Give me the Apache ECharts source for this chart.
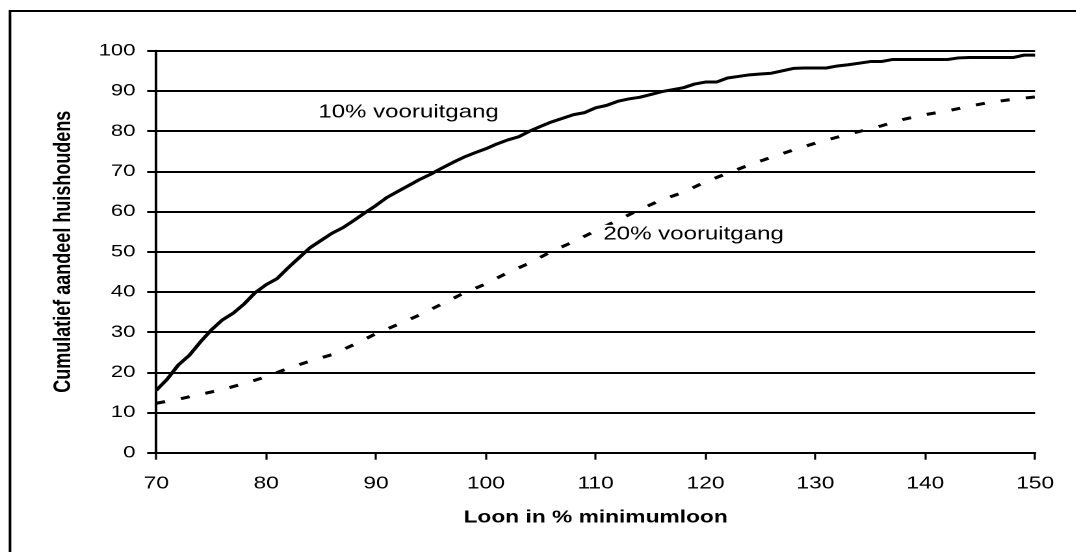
<!DOCTYPE html>
<html>
<head>
<meta charset="utf-8">
<script src="https://cdn.jsdelivr.net/npm/echarts@6/dist/echarts.min.js"></script>
<style>
html,body{margin:0;padding:0;background:#fff;}
#wrap{position:absolute;left:0;top:0;width:1076px;height:552px;overflow:hidden;background:#fff;}
#main{width:828px;height:552px;transform:scaleX(1.3);transform-origin:0 0;}
</style>
</head>
<body>
<div id="wrap"><div id="main"></div></div>
<script>
// Loon in % minimumloon (x values)
const loon10 = [70,71,72,73,74,75,76,77,78,79,80,81,82,83,84,85,86,87,88,89,90,91,92,93,94,95,96,97,98,99,100,101,102,103,104,105,106,107,108,109,110,111,112,113,114,115,116,117,118,119,120,121,122,123,124,125,126,127,128,129,130,131,132,133,134,135,136,137,138,139,140,141,142,143,144,145,146,147,148,149,150];
// Cumulatief aandeel huishoudens, 10% vooruitgang
const val10 = [15.5,18.3,21.8,24.2,27.5,30.5,33,34.7,37,39.8,41.8,43.3,46,48.5,51,52.8,54.6,56,57.8,59.7,61.5,63.5,65,66.5,68,69.3,70.8,72.2,73.5,74.6,75.6,76.8,77.8,78.6,80,81.2,82.3,83.2,84.1,84.6,85.8,86.4,87.4,88,88.4,89.1,89.8,90.3,90.8,91.7,92.2,92.2,93.2,93.6,94,94.2,94.4,95,95.6,95.7,95.7,95.7,96.2,96.5,96.9,97.3,97.3,97.8,97.8,97.8,97.8,97.8,97.8,98.2,98.3,98.3,98.3,98.3,98.3,98.9,98.9];
const loon20 = [70,72,74,76,78,80,82,84,86,88,90,92,94,96,98,100,102,104,106,108,110,112,114,116,118,120,122,124,126,128,130,132,134,136,138,140,142,144,146,148,150];
// Cumulatief aandeel huishoudens, 20% vooruitgang
const val20 = [12.3,13.3,14.5,15.7,17.2,18.9,21,22.8,24.4,26.9,29.6,31.9,34.3,37,39.7,42,44.8,47.2,50.1,52.5,55.2,57.8,60.5,62.9,64.8,67.4,69.5,71.6,73.5,75.3,77,78.5,79.9,81.3,82.9,84.1,85,86.2,87.2,87.9,88.5];
const seriesNames = ['10% vooruitgang','20% vooruitgang'];
const xTitle = 'Loon in % minimumloon';
const yTitle = 'Cumulatief aandeel huishoudens';
// annotation anchor points (data coordinates)
const label10At = [84.75, 84.6];
const label20At = [110.7, 54.3];

const FONT = "'Liberation Sans', Arial, sans-serif";
const chart = echarts.init(document.getElementById('main'), null, {renderer:'canvas', devicePixelRatio: 2});

function pairs(xs, ys){ return xs.map((x,i)=>[x, ys[i]]); }

chart.setOption({
  animation:false,
  backgroundColor:'#fff',
  grid:{left:120.2, right:31.8, top:50.7, bottom:99.3, containLabel:false},
  xAxis:{
    type:'value', min:70, max:150, interval:10,
    axisLine:{show:true, onZero:false, lineStyle:{color:'#000', width:2}},
    axisTick:{show:true, length:7, lineStyle:{color:'#000', width:1.6}},
    axisLabel:{color:'#000', fontSize:17.5, fontFamily:FONT, margin:22},
    splitLine:{show:false},
    name:xTitle, nameLocation:'middle', nameGap:56,
    nameTextStyle:{color:'#000', fontSize:17.5, fontWeight:'bold', fontFamily:FONT}
  },
  yAxis:{
    type:'value', min:0, max:100, interval:10,
    axisLine:{show:true, lineStyle:{color:'#000', width:2}},
    axisTick:{show:true, length:7, lineStyle:{color:'#000', width:2}},
    axisLabel:{color:'#000', fontSize:17, fontFamily:FONT, margin:16},
    splitLine:{show:true, lineStyle:{color:'#000', width:2}},
    name:yTitle, nameLocation:'middle', nameGap:62, nameRotate:90,
    nameTextStyle:{color:'#000', fontSize:18, fontWeight:'bold', fontFamily:FONT}
  },
  series:[
    {name:seriesNames[0], type:'line', data:pairs(loon10,val10), showSymbol:false, symbol:'none',
     lineStyle:{color:'#000', width:3}, z:3},
    {name:seriesNames[1], type:'line', data:pairs(loon20,val20), showSymbol:false, symbol:'none',
     lineStyle:{color:'#000', width:3, type:[7,12.5]}, z:3}
  ],
  graphic:[
    {type:'rect', silent:true, shape:{x:7.7, y:11, width:1200, height:800},
     style:{fill:'none', stroke:'#000', lineWidth:2}, z:10}
  ]
});

const p10 = chart.convertToPixel({xAxisIndex:0, yAxisIndex:0}, label10At);
const p20 = chart.convertToPixel({xAxisIndex:0, yAxisIndex:0}, label20At);
chart.setOption({
  graphic:[
    {type:'rect', silent:true, shape:{x:7.7, y:11, width:1200, height:800},
     style:{fill:'none', stroke:'#000', lineWidth:2}, z:10},
    {type:'text', silent:true, x:p10[0], y:p10[1], z:20,
     style:{text:seriesNames[0], fill:'#000', font:"18.5px " + FONT, align:'left', verticalAlign:'middle'}},
    {type:'text', silent:true, x:p20[0], y:p20[1], z:20,
     style:{text:seriesNames[1], fill:'#000', font:"18.5px " + FONT, align:'left', verticalAlign:'middle', backgroundColor:'#fff'}}
  ]
});
</script>
</body>
</html>
